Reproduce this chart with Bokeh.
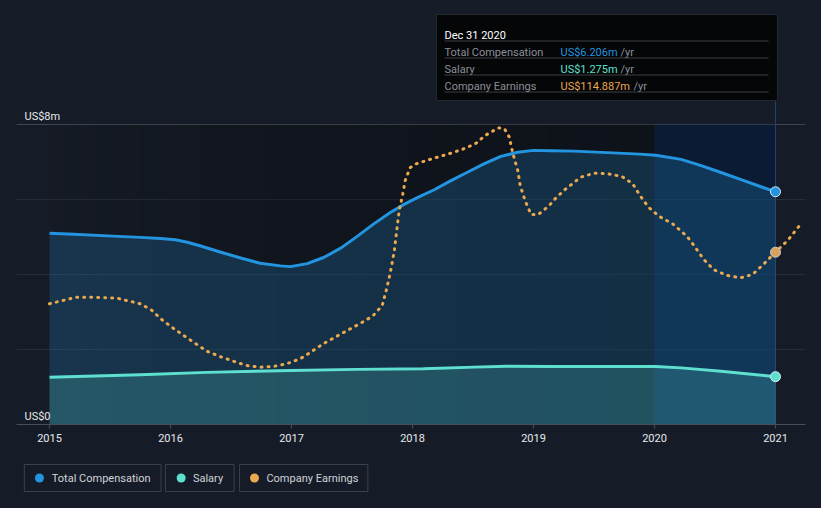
from bokeh.plotting import figure
from bokeh.models import Range1d, Span, Label, FixedTicker
from bokeh.layouts import column
from bokeh.embed import file_html
from bokeh.resources import INLINE
from bokeh.core.properties import value

# ---------------- data ----------------
tick_years = [2015, 2016, 2017, 2018, 2019, 2020, 2021]
tick_labels = ["2015", "2016", "2017", "2018", "2019", "2020", "2021"]
ytick_values = [0, 8]
ytick_labels = ["US$0", "US$8m"]

comp_x = [2015.0, 2015.2, 2015.48, 2015.75, 2015.92, 2016.04, 2016.14, 2016.25, 2016.41, 2016.58, 2016.74,
          2016.91, 2016.99, 2017.13, 2017.27, 2017.41, 2017.54, 2017.68, 2017.82, 2017.93, 2018.04,
          2018.18, 2018.31, 2018.45, 2018.59, 2018.73, 2018.87, 2019.0, 2019.14, 2019.33, 2019.61,
          2019.88, 2020.01, 2020.22, 2020.38, 2020.55, 2020.71, 2020.88, 2021.0]
comp_y = [5.10, 5.075, 5.03, 4.99, 4.96, 4.925, 4.86, 4.76, 4.60, 4.44, 4.30,
          4.23, 4.21, 4.29, 4.46, 4.71, 5.01, 5.35, 5.66, 5.87, 6.05,
          6.26, 6.49, 6.72, 6.95, 7.15, 7.26, 7.31, 7.30, 7.29, 7.25,
          7.21, 7.18, 7.07, 6.91, 6.72, 6.535, 6.34, 6.206]

salary_x = [2015.0, 2015.75, 2016.3, 2017.0, 2017.54, 2018.09, 2018.51, 2018.78, 2019.14, 2019.61,
            2020.01, 2020.22, 2020.55, 2021.0]
salary_y = [1.26, 1.325, 1.39, 1.44, 1.47, 1.485, 1.53, 1.555, 1.547, 1.547,
            1.547, 1.51, 1.42, 1.275]

earn_x = [2015.00, 2015.22, 2015.34, 2015.56, 2015.75, 2015.84, 2015.92, 2016.01, 2016.11, 2016.21,
          2016.30, 2016.41, 2016.52, 2016.63, 2016.74, 2016.85, 2016.96, 2017.07, 2017.13, 2017.27,
          2017.42, 2017.57, 2017.67, 2017.75, 2017.79, 2017.82, 2017.85, 2017.87, 2017.89, 2017.92,
          2017.94, 2017.98, 2018.03, 2018.14, 2018.30, 2018.41, 2018.52, 2018.60, 2018.71, 2018.76,
          2018.80, 2018.83, 2018.87, 2018.89, 2018.93, 2018.98, 2019.04, 2019.13, 2019.17, 2019.25,
          2019.39, 2019.50, 2019.61, 2019.73, 2019.82, 2019.88, 2019.95, 2020.04, 2020.15, 2020.27,
          2020.34, 2020.41, 2020.49, 2020.60, 2020.71, 2020.81, 2020.89, 2021.00, 2021.10, 2021.21]
earn_y = [80.5, 84.9, 84.9, 84.2, 80.5, 76.5, 70.5, 64.9, 59.3, 53.8,
          48.9, 45.3, 42.2, 39.3, 38.2, 38.7, 40.5, 43.8, 46.7, 54.2,
          60.9, 67.5, 72.2, 79.3, 91.6, 102.7, 116.0, 129.4, 142.7, 153.8,
          162.7, 171.2, 173.8, 176.7, 180.5, 183.4, 187.2, 192.7, 197.8, 197.2,
          191.6, 180.5, 169.4, 159.4, 149.4, 140.0, 140.0, 146.0, 149.8, 156.0,
          164.9, 167.6, 167.2, 165.4, 160.5, 152.7, 144.9, 138.7, 133.8, 125.4,
          117.8, 109.8, 103.2, 99.4, 97.8, 100.0, 106.0, 114.887, 122.7, 133.8]

series_names = ["Total Compensation", "Salary", "Company Earnings"]
tooltip_title = "Dec 31 2020"
tooltip_date = 2021.0
tooltip_values = ["US$6.206m", "US$1.275m", "US$114.887m"]
highlight_start = 2020.0

# ---------------- style ----------------
BG = "#161c27"
FONT = "Roboto"
C_COMP = "#2394df"
C_SAL = "#5ee0d0"
C_EARN = "#eaa84f"
C_TEXT = "#e6e8eb"
C_GRAY = "#8a8f98"
EARN_TOP = 277.4


# page-pixel -> data helpers (layout only)
def px2x(px):
    return 2015 + (px - 49) / 121.0


def py2y(py):
    return (424 - py) / 37.5


p = figure(width=805, height=442,
           x_range=Range1d(px2x(16), px2x(805)), y_range=Range1d(0, py2y(8)),
           output_backend="svg", toolbar_location=None,
           y_axis_location=None,
           min_border_left=8, min_border_right=8, min_border_top=0, min_border_bottom=26,
           background_fill_color=BG, border_fill_color=BG, outline_line_color=None)
p.extra_y_ranges = {"earn": Range1d(0, EARN_TOP)}
p.grid.visible = False

# grid lines
for gv in [2, 4, 6]:
    p.add_layout(Span(location=gv, dimension="width", line_color="#272d38", line_width=1, level="underlay"))
p.add_layout(Span(location=8, dimension="width", line_color="#41454d", line_width=1, level="underlay"))

# dark hover gradient up to the highlighted period
N = 40
x0 = tick_years[0]
lefts, rights, alphas = [], [], []
for i in range(N):
    a = x0 + (highlight_start - x0) * i / N
    b = x0 + (highlight_start - x0) * (i + 1) / N
    lefts.append(a)
    rights.append(b)
    alphas.append(0.35 * ((i + 0.5) / N) ** 0.5)
p.quad(left=lefts, right=rights, bottom=0, top=8, fill_color="black", fill_alpha=alphas, line_color=None)

# highlighted band
p.quad(left=[highlight_start], right=[tooltip_date], bottom=[0], top=[8],
       fill_color="#001a40", fill_alpha=0.5, line_color=None)
# hover line
p.segment(x0=[tooltip_date], y0=[0], x1=[tooltip_date], y1=[py2y(100)], line_color="#23426b", line_width=1)

# areas
p.varea(x=comp_x, y1=0, y2=comp_y, fill_color=C_COMP, fill_alpha=0.22)
p.varea(x=salary_x, y1=0, y2=salary_y, fill_color=C_SAL, fill_alpha=0.2)

# lines
p.line(comp_x, comp_y, line_color=C_COMP, line_width=3, line_join="round")
p.line(salary_x, salary_y, line_color=C_SAL, line_width=3, line_join="round")
p.line(earn_x, earn_y, y_range_name="earn", line_color=C_EARN, line_width=3,
       line_dash="1 6", line_cap="round")

# end markers
ei = earn_x.index(tooltip_date)
p.scatter([comp_x[-1]], [comp_y[-1]], size=10, fill_color=C_COMP, line_color="#dfe6ee", line_width=1)
p.scatter([salary_x[-1]], [salary_y[-1]], size=10, fill_color=C_SAL, line_color="#dfe6ee", line_width=1)
p.scatter([earn_x[ei]], [earn_y[ei]], y_range_name="earn", size=10, fill_color="#d9a35e",
          line_color="#c8ccd2", line_width=1)

# x axis
ax = p.xaxis[0]
ax.ticker = FixedTicker(ticks=tick_years)
ax.major_label_overrides = {y: l for y, l in zip(tick_years, tick_labels)}
ax.minor_tick_line_color = None
ax.major_tick_in = 0
ax.major_tick_out = 4
ax.major_tick_line_color = "#4a4e56"
ax.axis_line_color = "#4a4e56"
ax.major_label_standoff = 5
ax.major_label_text_font = FONT
ax.major_label_text_font_size = "11px"
ax.major_label_text_color = C_TEXT

# y labels
for yv, yl in zip(ytick_values, ytick_labels):
    p.add_layout(Label(x=px2x(24), y=yv, y_offset=8.5, text=yl, text_font=FONT, text_font_size="11px",
                       text_color=C_TEXT, text_baseline="alphabetic"))

# tooltip box
p.quad(left=[px2x(436)], right=[px2x(777)], top=[py2y(14)], bottom=[py2y(100)],
       fill_color="#050608", line_color="#24272d", line_width=1)
sep_y = [py2y(40.5), py2y(57.5), py2y(74.5), py2y(91.5)]
p.segment(x0=[px2x(444)] * 4, y0=sep_y, x1=[px2x(768)] * 4, y1=sep_y, line_color="#3a3c41", line_width=1)
p.add_layout(Label(x=px2x(444), y=py2y(35), text=tooltip_title, text_font=FONT, text_font_size="11px",
                   text_color="#ffffff", text_baseline="alphabetic"))
val_colors = [C_COMP, C_SAL, C_EARN]
row_base = [52, 69, 86]
yr_px = [620, 620, 633]
for name, val, col, rb, yx in zip(series_names, tooltip_values, val_colors, row_base, yr_px):
    p.add_layout(Label(x=px2x(444), y=py2y(rb), text=name, text_font=FONT, text_font_size="11px",
                       text_color=C_GRAY, text_baseline="alphabetic"))
    p.add_layout(Label(x=px2x(560), y=py2y(rb), text=val, text_font=FONT, text_font_size="11px",
                       text_color=col, text_baseline="alphabetic"))
    p.add_layout(Label(x=px2x(yx), y=py2y(rb), text="/yr", text_font=FONT, text_font_size="11px",
                       text_color=C_GRAY, text_baseline="alphabetic"))

# ---------------- legend strip ----------------
lg = figure(width=805, height=50, x_range=Range1d(0, 805), y_range=Range1d(50, 0),
            output_backend="svg", toolbar_location=None,
            x_axis_location=None, y_axis_location=None,
            min_border=0, background_fill_color=BG, border_fill_color=BG, outline_line_color=None)
lg.grid.visible = False
box_l = [8, 152, 227.6]
box_r = [147.5, 222, 358.5]
dot_x = [23.4, 168, 242.8]
txt_x = [36, 180, 255]
lg.quad(left=box_l, right=box_r, top=[14] * 3, bottom=[41] * 3, fill_color=None,
        line_color="#3b4049", line_width=1)
lg.scatter(dot_x, [27.5] * 3, size=9, fill_color=val_colors, line_color=None)
lg.text(txt_x, [27.5] * 3, text=series_names, text_baseline="middle", text_font=value(FONT),
        text_font_size="11px", text_color="#d0d3d8")

layout = column(p, lg, spacing=0)
html = file_html(layout, INLINE)
html = html.replace("</head>", "<style>html{background:%s;} body{background:%s;margin:8px;}</style></head>" % (BG, BG), 1)
open("out.html", "w").write(html)
